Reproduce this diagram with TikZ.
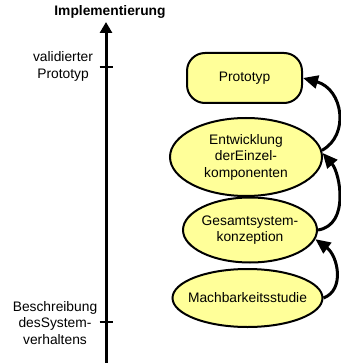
\documentclass[tikz,border=0pt]{standalone}
\usepackage{fontspec}
\setmainfont{Liberation Sans}
\usetikzlibrary{shapes.geometric,arrows.meta}
\definecolor{nodefill}{HTML}{FFFF99}
\begin{document}
\begin{tikzpicture}[x=1pt,y=-1pt,
  every node/.style={font=\fontsize{13.8}{16.5}\selectfont, inner sep=0pt},
  ell/.style={ellipse, draw=black, line width=2pt, fill=nodefill},
  rbox/.style={rectangle, rounded corners=18pt, draw=black, line width=2pt, fill=nodefill},
  conn/.style={line width=3pt, -{Triangle[length=15pt,width=13pt]}},
  axisline/.style={line width=3pt, -{Triangle[length=11pt,width=12pt]}},
  tick/.style={line width=2pt},
  lbl/.style={align=center}]
\useasboundingbox (0,0) rectangle (340,363);
% axis
\coordinate (ab) at (106,363);
\coordinate (at) at (106,22);
\draw[axisline] (ab) -- (at);
\coordinate (t1l) at (99.5,67);
\coordinate (t1r) at (113,67);
\coordinate (t2l) at (99.5,322);
\coordinate (t2r) at (113,322);
\draw[tick] (t1l) -- (t1r);
\draw[tick] (t2l) -- (t2r);
\node[font=\fontsize{13.8}{16.5}\selectfont\bfseries] (impl) at (110,12) {Implementierung};
\node[lbl] (vp) at (63,66.5) {validierter\\Prototyp};
\node[lbl] (bs) at (55,323) {Beschreibung\\desSystem-\\verhaltens};
% nodes
\node[rbox, minimum width=115pt, minimum height=50pt] (P) at (244.5,78) {Prototyp};
\node[ell, minimum width=152pt, minimum height=78pt] (E) at (246,157) {};
\node[lbl] (Et) at (E) {Entwicklung\\derEinzel-\\komponenten};
\node[ell, minimum width=134pt, minimum height=65pt] (G) at (250,230) {};
\node[lbl] (Gt) at (G) {Gesamtsystem-\\konzeption};
\node[ell, minimum width=150pt, minimum height=58pt] (M) at (247.5,298) {};
\node[lbl] (Mt) at (M) {Machbarkeitsstudie};
% connectors
\draw[conn] (M.east) .. controls (345,290) and (338,256) .. (G.-8);
\draw[conn] (G.east) .. controls (350,225) and (340,173) .. (E.3);
\draw[conn] (E.5) .. controls (350,135) and (343,89) .. (P.east);
\end{tikzpicture}
\end{document}
